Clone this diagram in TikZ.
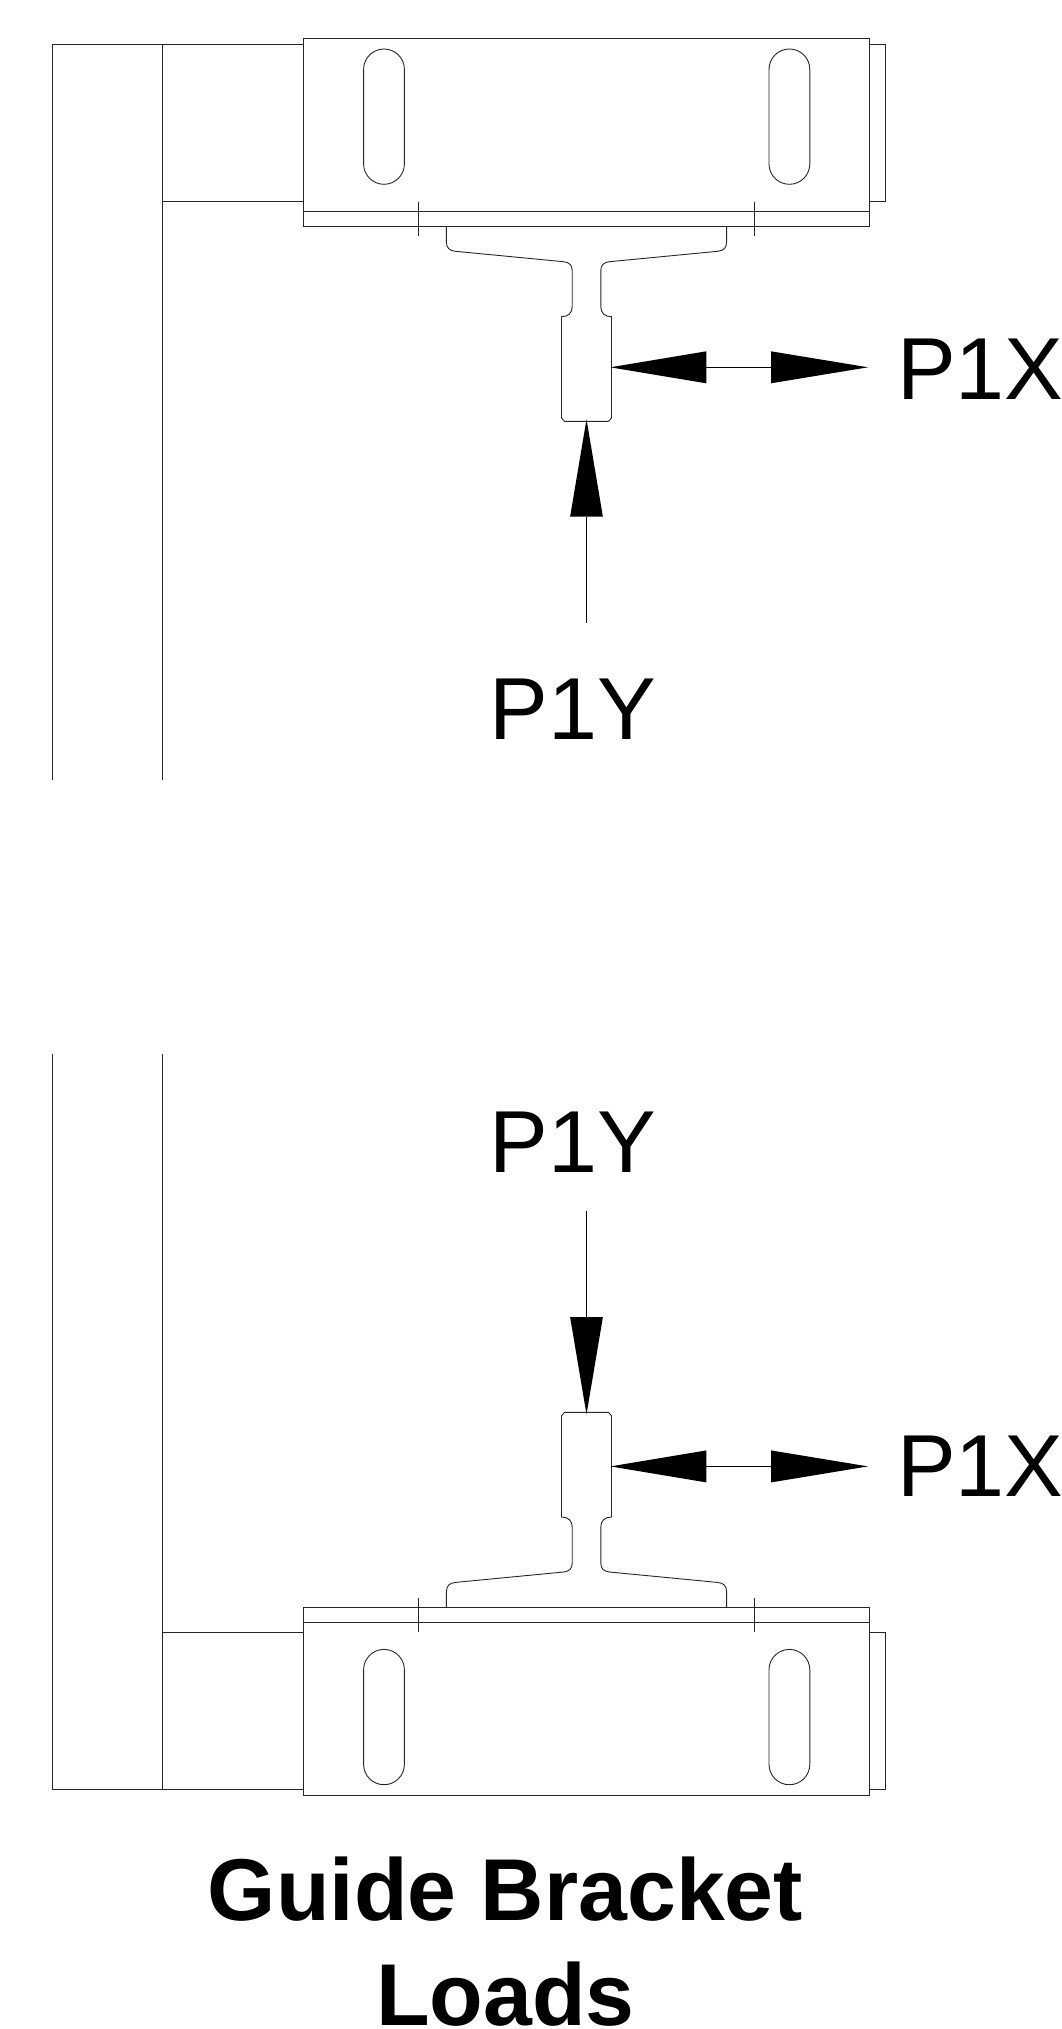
\documentclass[tikz,border=0pt]{standalone}
\usepackage{fontspec}
\setmainfont{Liberation Sans}
\usetikzlibrary{arrows.meta}
\tikzset{
  x=1pt,y=-1pt,
  part/.style={line width=0.9pt,black!85},
  force/.style={line width=0.9pt,black},
  bigfirst/.style={{Triangle[length=96pt,width=32pt,line width=0pt]}-{Triangle[length=97pt,width=32pt,line width=0pt]}},
  bighead/.style={-{Triangle[length=97.4pt,width=32.8pt,line width=0pt]}},
  lab/.style={inner sep=0pt,outer sep=0pt,anchor=base west,font=\fontsize{88pt}{100pt}\selectfont\addfontfeature{Kerning=Off}},
  ttl/.style={inner sep=0pt,outer sep=0pt,anchor=base,font=\fontsize{87.8pt}{100pt}\selectfont\bfseries},
  assembly/.pic={
    % column
    \draw[part] (52,780) -- (52,44.3) -- (303.3,44.3);
    \draw[part] (162.3,780) -- (162.3,44.3);
    \draw[part] (162.3,201.7) -- (303.3,201.7);
    % bracket
    \draw[part] (303.3,38.3) rectangle (869,226.7);
    \draw[part] (303.3,211) -- (869,211);
    \draw[part] (869,44.3) -- (885,44.3) -- (885,201.7) -- (869,201.7);
    \draw[part,rounded corners=20.4pt] (363.6,49) rectangle (404.4,184.3);
    \draw[part,rounded corners=20.4pt] (769,49) rectangle (809.8,184.3);
    \draw[part] (418.6,201.7) -- (418.6,236);
    \draw[part] (754.6,201.7) -- (754.6,236);
    % rail
    \draw[part] (446.4,226.7) -- (446.4,241.7)
      .. controls (446.4,248) and (449.4,250.7) .. (455.4,251.3)
      -- (563.5,261.7)
      .. controls (569.2,262.3) and (572.2,265) .. (572.2,270.7)
      -- (572.2,306.7)
      .. controls (572.2,313) and (568.2,316.7) .. (561.5,316.7)
      -- (561.5,418) -- (564.5,421.3) -- (608.5,421.3) -- (611.5,418)
      -- (611.5,316.7)
      .. controls (604.8,316.7) and (600.8,313) .. (600.8,306.7)
      -- (600.8,270.7)
      .. controls (600.8,265) and (603.8,262.3) .. (609.5,261.7)
      -- (717.6,251.3)
      .. controls (723.6,250.7) and (726.6,248) .. (726.6,241.7)
      -- (726.6,226.7);
    % loads
    \coordinate (tipx) at (610.3,367.3);
    \coordinate (endx) at (868,367.3);
    \coordinate (taily) at (586.5,622.7);
    \coordinate (tipy) at (586.5,419.3);
    \draw[force,bigfirst] (tipx) -- (endx);
    \draw[force,bighead] (taily) -- (tipy);
  }
}
\begin{document}
\begin{tikzpicture}
\useasboundingbox (0,0) rectangle (1061,2029);
\pic (up) {assembly};
\begin{scope}[shift={(0,1833.7)},yscale=-1]
\pic[transform shape] (low) {assembly};
\end{scope}
\node[lab] (xa) at (897,399.3) {P1X};
\node[lab] (ya) at (489.5,739.3) {P1Y};
\node[lab] (xb) at (897,1496.7) {P1X};
\node[lab] (yb) at (489.5,1172.7) {P1Y};
\node[ttl] (t1) at (505.5,1920.7) {Guide Bracket};
\node[ttl] (t2) at (505.5,2025) {Loads};
\end{tikzpicture}
\end{document}
